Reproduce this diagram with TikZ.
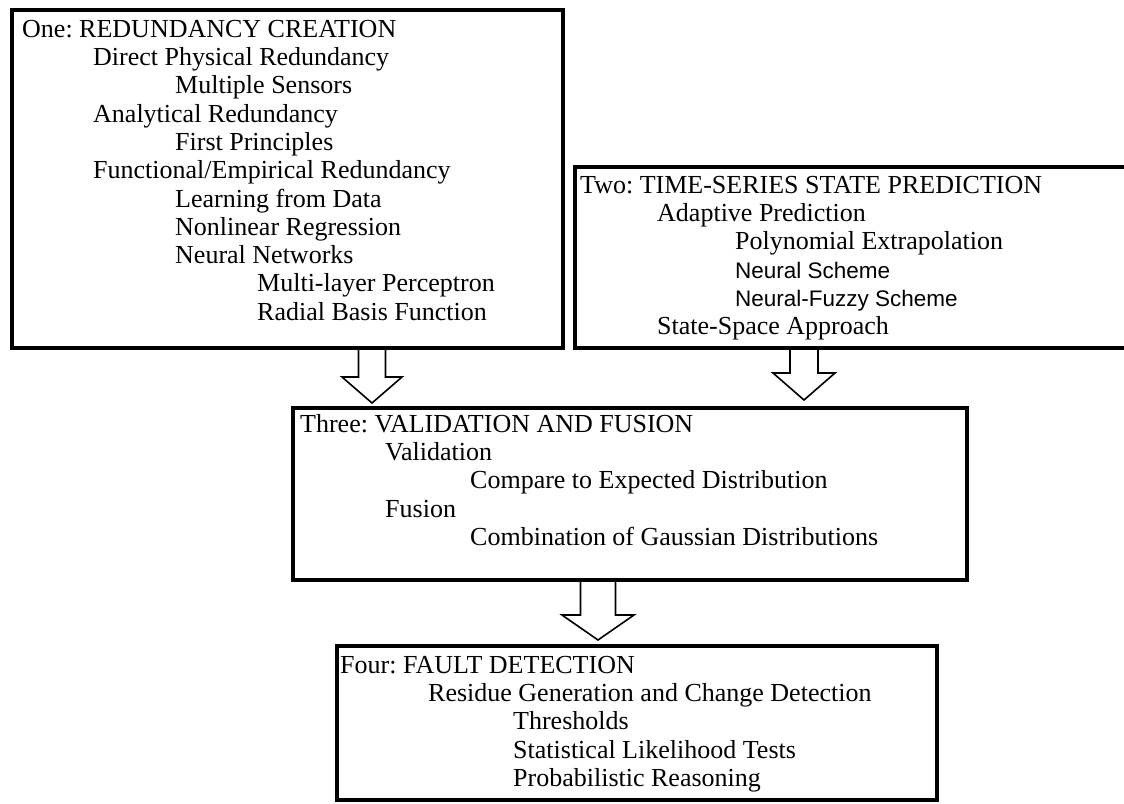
\documentclass[tikz,border=0pt]{standalone}
\usepackage{fontspec}
\setmainfont{Liberation Serif}
\setsansfont{Liberation Sans}
\usetikzlibrary{calc}
\frenchspacing

% freccia cava: partenza, punta, mezzo gambo, mezza testa, lunghezza testa
\newcommand{\freccia}[5]{%
  \draw[frecciacava] ($(#1)+(-#3,0)$) -- ($(#2)+(-#3,-#5)$) -- ($(#2)+(-#4,-#5)$) -- (#2)
    -- ($(#2)+(#4,-#5)$) -- ($(#2)+(#3,-#5)$) -- ($(#1)+(#3,0)$);}

\begin{document}
\begin{tikzpicture}[x=1pt,y=-1pt]

% Stili
\tikzset{
  riquadro/.style={draw, line width=4.5pt, outer sep=0pt, inner sep=0pt, anchor=north west},
  testo/.style={anchor=north west, inner sep=0pt, align=left, font=\fontsize{26}{28.3}\selectfont},
  frecciacava/.style={line width=1.6pt, line join=miter}
}
\useasboundingbox (0,0) rectangle (1124,803);

% --- Riquadri ---
\node[riquadro, minimum width=551pt, minimum height=338pt] (one) at (12,10) {};
\node[riquadro, minimum width=555pt, minimum height=181pt] (two) at (575,167) {};
\node[riquadro, minimum width=674pt, minimum height=172pt] (three) at (293,408) {};
\node[riquadro, minimum width=600pt, minimum height=154pt] (four) at (337,646) {};

% --- Testi ---
\node[testo] (oneText) at ($(one.north west)+(10,7)$) {\rule{0pt}{20pt}One: REDUNDANCY CREATION\\
  \hspace*{71pt}Direct Physical Redundancy\\
  \hspace*{153pt}Multiple Sensors\\
  \hspace*{71pt}Analytical Redundancy\\
  \hspace*{153pt}First Principles\\
  \hspace*{71pt}Functional/Empirical Redundancy\\
  \hspace*{153pt}Learning from Data\\
  \hspace*{153pt}Nonlinear Regression\\
  \hspace*{153pt}Neural Networks\\
  \hspace*{235pt}Multi-layer Perceptron\\
  \hspace*{235pt}Radial Basis Function};

\node[testo] (twoText) at ($(two.north west)+(5,6)$) {\rule{0pt}{20pt}Two: TIME-SERIES STATE PREDICTION\\
  \hspace*{77pt}Adaptive Prediction\\
  \hspace*{155pt}Polynomial Extrapolation\\
  \hspace*{155pt}{\sffamily\fontsize{22.5}{28.3}\selectfont Neural Scheme}\\
  \hspace*{155pt}{\sffamily\fontsize{22.5}{28.3}\selectfont Neural-Fuzzy Scheme}\\
  \hspace*{77pt}State-Space Approach};

\node[testo] (threeText) at ($(three.north west)+(7,4)$) {\rule{0pt}{20pt}Three: VALIDATION AND FUSION\\
  \hspace*{85pt}Validation\\
  \hspace*{170pt}Compare to Expected Distribution\\
  \hspace*{85pt}Fusion\\
  \hspace*{170pt}Combination of Gaussian Distributions};

\node[testo] (fourText) at ($(four.north west)+(3,7)$) {\rule{0pt}{20pt}Four: FAULT DETECTION\\
  \hspace*{88pt}Residue Generation and Change Detection\\
  \hspace*{173pt}Thresholds\\
  \hspace*{173pt}Statistical Likelihood Tests\\
  \hspace*{173pt}Probabilistic Reasoning};

% --- Frecce ---
\coordinate (p1) at ($(one.south west)+(360,2)$);
\coordinate (t1) at ($(p1 |- three.north)+(0,-5)$);
\coordinate (p2) at ($(two.south west)+(229,2)$);
\coordinate (t2) at ($(p2 |- three.north)+(0,-8)$);
\coordinate (p3) at ($(three.south west)+(305,2)$);
\coordinate (t3) at ($(p3 |- four.north)+(0,-6)$);

\freccia{p1}{t1}{13.5}{30}{26}
\freccia{p2}{t2}{14}{31}{27}
\freccia{p3}{t3}{17.5}{36}{25}

\end{tikzpicture}
\end{document}
